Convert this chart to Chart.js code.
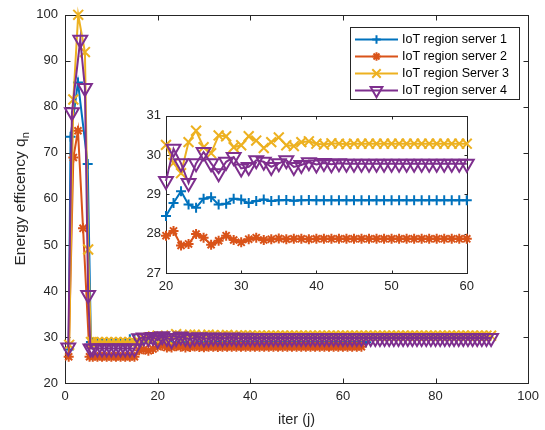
<!DOCTYPE html>
<html>
<head>
<meta charset="utf-8">
<script src="https://cdn.jsdelivr.net/npm/chart.js@4.4.1/dist/chart.umd.min.js"></script>
<style>
  html, body { margin: 0; padding: 0; background: #fff; }
  #wrap { position: relative; width: 545px; height: 430px; }
  #main { position: absolute; left: 0; top: 0; }
  #inset { position: absolute; left: 125px; top: 103px; }
</style>
</head>
<body>
<div id="wrap">
  <canvas id="main" width="545" height="430"></canvas>
  <canvas id="inset" width="355" height="195"></canvas>
</div>
<script>
// series names (legend)
var seriesNames = ['IoT region server 1', 'IoT region server 2', 'IoT region Server 3', 'IoT region server 4'];

// early spike: iteration positions and values
var headX1 = [0.8, 1.2, 2.8, 4.9, 5.6];
var headY1 = [27.3, 73.5, 85.3, 67.6, 28.9];
var headX2 = [0.8, 1.8, 2.8, 3.9, 5.3];
var headY2 = [25.7, 69.0, 74.8, 53.6, 25.7];
var headX3 = [0.9, 1.8, 2.85, 4.3, 5.0, 5.6];
var headY3 = [28.3, 81.6, 100.0, 91.9, 49.0, 28.9];
var headX4 = [0.7, 1.5, 3.3, 4.3, 5.0, 5.5];
var headY4 = [27.7, 78.8, 94.6, 84.1, 39.1, 27.5];

// values from iteration 6 onwards, one per iteration
var tailStart = 6;
var tail1 = [28.8, 28.8, 28.8, 28.8, 28.8, 28.8, 28.8, 28.8,
  29.5, 29.5, 29.3, 29.1, 29.0, 28.7,
  28.45, 28.78, 29.08, 28.74, 28.66, 28.89, 28.93, 28.74, 28.76, 28.89, 28.87, 28.78, 28.83, 28.87, 28.83, 28.85, 28.86, 28.84, 28.85, 28.86, 28.85,
  28.85, 28.85, 28.85, 28.85, 28.85, 28.85, 28.85, 28.85, 28.85, 28.85, 28.85, 28.85, 28.85, 28.85, 28.85, 28.85, 28.85, 28.85, 28.85, 28.85, 28.85, 28.85, 28.85, 28.85, 28.85];
var tail2 = [25.7, 25.7, 25.7, 25.7, 25.7, 25.7, 25.7, 25.7, 25.7, 25.7,
  27.1, 27.3, 27.0, 27.4,
  27.95, 28.07, 27.70, 27.74, 27.99, 27.90, 27.72, 27.82, 27.95, 27.84, 27.78, 27.86, 27.90, 27.84, 27.86, 27.88, 27.86, 27.87, 27.87, 27.86, 27.87,
  27.87, 27.87, 27.87, 27.87, 27.87, 27.87, 27.87, 27.87, 27.87, 27.87, 27.87, 27.87, 27.87, 27.87, 27.87, 27.87, 27.87, 27.87, 27.87, 27.87, 27.87, 27.87, 27.87, 27.87];
var tail3 = [28.9, 28.9, 28.9, 28.9, 28.9, 28.9, 28.9, 28.9, 28.9, 28.9,
  29.0, 29.6, 29.9, 30.1,
  30.26, 29.80, 29.54, 30.33, 30.62, 30.20, 30.05, 30.50, 30.48, 30.20, 30.25, 30.48, 30.37, 30.18, 30.33, 30.45, 30.25, 30.23, 30.33, 30.35, 30.29,
  30.27, 30.30, 30.29, 30.28, 30.29, 30.29, 30.29, 30.29, 30.29, 30.29, 30.29, 30.29, 30.29, 30.29, 30.29, 30.29, 30.29, 30.29, 30.29, 30.29,
  30.29, 30.29, 30.29, 30.29, 30.29, 30.29, 30.29, 30.29, 30.29, 30.29, 30.29, 30.29, 30.29, 30.29, 30.29, 30.29, 30.29, 30.29, 30.29, 30.29,
  30.29, 30.29, 30.29, 30.29, 30.29, 30.29, 30.29, 30.29, 30.29, 30.29, 30.29, 30.29];
var tail4 = [27.5, 27.5, 27.5, 27.5, 27.5, 27.5, 27.5, 27.5, 27.5, 27.5,
  29.7, 29.9, 29.8, 30.0,
  29.34, 30.16, 29.79, 29.29, 29.79, 30.08, 29.79, 29.54, 29.83, 29.95, 29.66, 29.70, 29.87, 29.83, 29.70, 29.79, 29.87, 29.70, 29.75, 29.82, 29.76,
  29.80, 29.77, 29.79, 29.78, 29.78, 29.78, 29.78, 29.78, 29.78, 29.78, 29.78, 29.78, 29.78, 29.78, 29.78, 29.78, 29.78, 29.78, 29.78, 29.78,
  29.78, 29.78, 29.78, 29.78, 29.78, 29.78, 29.78, 29.78, 29.78, 29.78, 29.78, 29.78, 29.78, 29.78, 29.78, 29.78, 29.78, 29.78, 29.78, 29.78,
  29.78, 29.78, 29.78, 29.78, 29.78, 29.78, 29.78, 29.78, 29.78, 29.78, 29.78, 29.78];

// axis ticks
var mainXTicks = [0, 20, 40, 60, 80, 100];
var mainYTicks = [20, 30, 40, 50, 60, 70, 80, 90, 100];
var insetXTicks = [20, 30, 40, 50, 60];
var insetYTicks = [27, 28, 29, 30, 31];

var colors = ['#0072BD', '#D95319', '#EDB120', '#7E2F8E'];
var markers = [
  { style: 'cross', radius: 5, rotation: 0 },
  { style: 'star', radius: 5, rotation: 0 },
  { style: 'crossRot', radius: 7, rotation: 0 },
  { style: 'triangle', radius: 8, rotation: 180 }
];
var FONT = '"Liberation Sans", Arial, Helvetica, sans-serif';
var AXIS = '#262626';

function toPoints(hx, hy, tail) {
  var pts = hx.map(function (x, i) { return { x: x, y: hy[i] }; });
  tail.forEach(function (v, i) { pts.push({ x: tailStart + i, y: v }); });
  return pts;
}
var allPoints = [
  toPoints(headX1, headY1, tail1),
  toPoints(headX2, headY2, tail2),
  toPoints(headX3, headY3, tail3),
  toPoints(headX4, headY4, tail4)
];

function makeDatasets(filter) {
  return allPoints.map(function (pts, i) {
    return {
      label: seriesNames[i],
      data: filter ? pts.filter(filter) : pts,
      borderColor: colors[i],
      borderWidth: 2,
      pointStyle: markers[i].style,
      pointRadius: markers[i].radius,
      pointRotation: markers[i].rotation,
      pointBorderColor: colors[i],
      pointBackgroundColor: 'rgba(0,0,0,0)',
      pointBorderWidth: 2,
      pointHoverRadius: markers[i].radius,
      fill: false,
      tension: 0,
      clip: false,
      order: 4 - i
    };
  });
}

function linScale(min, max, ticks, pad, size, horiz) {
  return {
    type: 'linear', min: min, max: max,
    afterBuildTicks: function (s) { s.ticks = ticks.map(function (v) { return { value: v }; }); },
    afterFit: function (s) { if (horiz) s.height = size; else s.width = size; },
    grid: { display: false, drawTicks: false },
    border: { display: false },
    ticks: { color: AXIS, padding: pad, font: { family: FONT, size: 13 } }
  };
}

// axes box with inward ticks on all four sides, MATLAB style
function boxPlugin(tickLen, whiteBg) {
  return {
    id: 'matlabBox',
    beforeDatasetsDraw: function (chart) {
      var ctx = chart.ctx, a = chart.chartArea, sx = chart.scales.x, sy = chart.scales.y;
      var l = Math.round(a.left) + 0.5, r = Math.round(a.right) + 0.5;
      var t = Math.round(a.top) + 0.5, b = Math.round(a.bottom) + 0.5;
      ctx.save();
      if (whiteBg) { ctx.fillStyle = '#fff'; ctx.fillRect(l, t, r - l, b - t); }
      ctx.strokeStyle = AXIS;
      ctx.lineWidth = 1;
      ctx.strokeRect(l, t, r - l, b - t);
      ctx.beginPath();
      sx.ticks.forEach(function (tk) {
        var px = Math.round(sx.getPixelForValue(tk.value)) + 0.5;
        ctx.moveTo(px, b); ctx.lineTo(px, b - tickLen);
        ctx.moveTo(px, t); ctx.lineTo(px, t + tickLen);
      });
      sy.ticks.forEach(function (tk) {
        var py = Math.round(sy.getPixelForValue(tk.value)) + 0.5;
        ctx.moveTo(l, py); ctx.lineTo(l + tickLen, py);
        ctx.moveTo(r, py); ctx.lineTo(r - tickLen, py);
      });
      ctx.stroke();
      ctx.restore();
    }
  };
}

var labelsPlugin = {
  id: 'axisTitles',
  afterDraw: function (chart) {
    var ctx = chart.ctx, a = chart.chartArea;
    ctx.save();
    ctx.fillStyle = AXIS;
    ctx.font = '14.5px ' + FONT;
    ctx.textAlign = 'center';
    ctx.textBaseline = 'middle';
    ctx.fillText('iter (j)', (a.left + a.right) / 2, 420);
    // y title with subscript n
    ctx.translate(25, (a.top + a.bottom) / 2);
    ctx.rotate(-Math.PI / 2);
    ctx.textAlign = 'left';
    ctx.textBaseline = 'alphabetic';
    var mainTxt = 'Energy efficency q';
    ctx.font = '15.5px ' + FONT;
    var w1 = ctx.measureText(mainTxt).width;
    ctx.font = '11px ' + FONT;
    var w2 = ctx.measureText('n').width;
    var x0 = -(w1 + w2) / 2;
    ctx.fillText('n', x0 + w1, 3.5);
    ctx.font = '15.5px ' + FONT;
    ctx.fillText(mainTxt, x0, 0);
    ctx.restore();
  }
};

var legendPlugin = {
  id: 'matlabLegend',
  afterDraw: function (chart) {
    var ctx = chart.ctx;
    var bx = 350, by = 27, bw = 169, bh = 72;
    ctx.save();
    ctx.fillStyle = '#fff';
    ctx.fillRect(bx, by, bw, bh);
    ctx.strokeStyle = AXIS;
    ctx.lineWidth = 1;
    ctx.strokeRect(bx + 0.5, by + 0.5, bw, bh);
    chart.data.datasets.forEach(function (ds, i) {
      var y = 39.5 + i * 17;
      ctx.strokeStyle = ds.borderColor;
      ctx.lineWidth = 2;
      ctx.beginPath();
      ctx.moveTo(355, y); ctx.lineTo(398, y);
      ctx.stroke();
      ctx.fillStyle = 'rgba(0,0,0,0)';
      Chart.helpers.drawPoint(ctx, {
        pointStyle: ds.pointStyle,
        radius: ds.pointRadius * 0.85,
        rotation: ds.pointRotation,
        borderWidth: 2
      }, 376.5, y);
      ctx.fillStyle = '#000';
      ctx.font = '12.5px ' + FONT;
      ctx.textAlign = 'left';
      ctx.textBaseline = 'middle';
      ctx.fillText(seriesNames[i], 402, y + 0.5);
    });
    ctx.restore();
  }
};

var common = {
  responsive: false,
  animation: false,
  devicePixelRatio: 1,
  plugins: { legend: { display: false }, tooltip: { enabled: false } },
  events: []
};

new Chart(document.getElementById('main'), {
  type: 'line',
  data: { datasets: makeDatasets(null) },
  options: Object.assign({}, common, {
    layout: { padding: { top: 14, right: 13, left: 0, bottom: 0 } },
    scales: {
      x: linScale(0, 100, mainXTicks, 6, 47, true),
      y: linScale(20, 100, mainYTicks, 7, 65, false)
    }
  }),
  plugins: [boxPlugin(5, false), labelsPlugin, legendPlugin]
});

new Chart(document.getElementById('inset'), {
  type: 'line',
  data: { datasets: makeDatasets(function (p) { return p.x >= 20 && p.x <= 60; }) },
  options: Object.assign({}, common, {
    layout: { padding: { top: 10, right: 11, left: 0, bottom: 0 } },
    scales: {
      x: linScale(20, 60, insetXTicks, 6, 25, true),
      y: linScale(27, 31, insetYTicks, 5, 41, false)
    }
  }),
  plugins: [boxPlugin(3, true)]
});
</script>
</body>
</html>
